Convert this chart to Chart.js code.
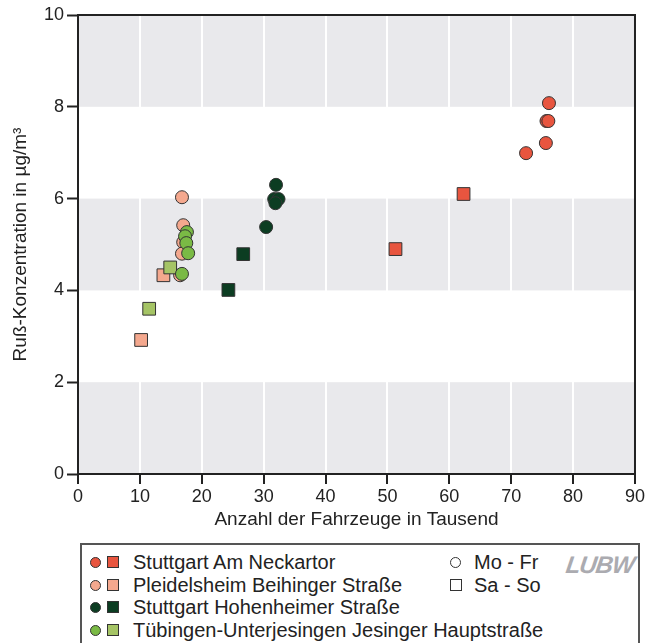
<!DOCTYPE html>
<html>
<head>
<meta charset="utf-8">
<script src="https://cdn.jsdelivr.net/npm/chart.js@4"></script>
<style>
  body { margin: 0; background: #fff; font-family: "Liberation Sans", Arial, sans-serif; }
  #wrap { position: relative; width: 647px; height: 643px; overflow: hidden; }
  #chartBox { position: absolute; left: 0; top: 0; width: 647px; height: 540px; }
  #legend { position: absolute; left: 80px; top: 543px; width: 560px; height: 120px;
            border: 2px solid #555; box-sizing: border-box; color: #222; font-size: 20px; }
  .row { position: absolute; left: 0; height: 22px; line-height: 22px; white-space: nowrap; }
  .dot { position: absolute; width: 11px; height: 11px; border-radius: 50%; border: 1px solid #333; box-sizing: border-box; top: 6px; }
  .sq { position: absolute; width: 12px; height: 12px; border: 1px solid #333; box-sizing: border-box; top: 5px; }
  .txt { position: absolute; top: 0; }
  #logo { position: absolute; left: 484px; top: 6px; font: italic bold 24px "Liberation Sans", Arial, sans-serif;
          color: #ababb0; letter-spacing: -1px; transform: skewX(-8deg); }
</style>
</head>
<body>
<div id="wrap">
  <div id="chartBox"><canvas id="scatter-chart"></canvas></div>
  <div id="legend"></div>
</div>
<script>
// Werte (x: Fahrzeuge in Tausend, y: Ruß in µg/m³)
const neckartorWeekX = [76.1, 75.7, 76.0, 75.6, 72.4];
const neckartorWeekY = [8.08, 7.69, 7.69, 7.21, 6.99];
const neckartorEndX = [62.3, 51.3];
const neckartorEndY = [6.10, 4.90];

const pleidelsheimWeekX = [16.8, 17.0, 17.0, 16.8, 16.5];
const pleidelsheimWeekY = [6.03, 5.42, 5.05, 4.80, 4.33];
const pleidelsheimEndX = [13.8, 10.2];
const pleidelsheimEndY = [4.33, 2.92];

const hohenheimWeekX = [32.0, 31.7, 32.4, 31.9, 30.4];
const hohenheimWeekY = [6.30, 5.99, 5.99, 5.90, 5.38];
const hohenheimEndX = [26.7, 24.3];
const hohenheimEndY = [4.79, 4.01];

const tuebingenWeekX = [17.6, 17.3, 17.5, 17.8, 16.8];
const tuebingenWeekY = [5.27, 5.18, 5.03, 4.81, 4.36];
const tuebingenEndX = [14.9, 11.5];
const tuebingenEndY = [4.50, 3.60];

const xTicks = [0, 10, 20, 30, 40, 50, 60, 70, 80, 90];
const yTicks = [0, 2, 4, 6, 8, 10];
const grayBands = [[0, 2], [4, 6], [8, 10]];

const stations = [
  { name: 'Stuttgart Am Neckartor', week: '#e8553f', end: '#e8553f', wx: neckartorWeekX, wy: neckartorWeekY, ex: neckartorEndX, ey: neckartorEndY, order: 4 },
  { name: 'Pleidelsheim Beihinger Straße', week: '#f4a88e', end: '#f4a88e', wx: pleidelsheimWeekX, wy: pleidelsheimWeekY, ex: pleidelsheimEndX, ey: pleidelsheimEndY, order: 3 },
  { name: 'Stuttgart Hohenheimer Straße', week: '#0c3d22', end: '#0c3d22', wx: hohenheimWeekX, wy: hohenheimWeekY, ex: hohenheimEndX, ey: hohenheimEndY, order: 1 },
  { name: 'Tübingen-Unterjesingen Jesinger Hauptstraße', week: '#7aba45', end: '#a5c465', wx: tuebingenWeekX, wy: tuebingenWeekY, ex: tuebingenEndX, ey: tuebingenEndY, order: 2 },
];

const zip = (xs, ys) => xs.map((x, i) => ({ x: x, y: ys[i] }));

const datasets = [];
stations.forEach(s => {
  datasets.push({ label: s.name + ' Mo-Fr', data: zip(s.wx, s.wy), pointStyle: 'circle', pointRadius: 6.5,
    backgroundColor: s.week, borderColor: '#333', borderWidth: 1, order: s.order });
  datasets.push({ label: s.name + ' Sa-So', data: zip(s.ex, s.ey), pointStyle: 'rect', pointRadius: 9,
    backgroundColor: s.end, borderColor: '#333', borderWidth: 1, order: s.order });
});

const bandsPlugin = {
  id: 'bands',
  beforeDraw(chart) {
    const { ctx, chartArea: { left, right }, scales: { y } } = chart;
    ctx.save();
    ctx.fillStyle = '#e9e9ec';
    grayBands.forEach(([a, b]) => {
      const t = y.getPixelForValue(b), bt = y.getPixelForValue(a);
      ctx.fillRect(left, t, right - left, bt - t);
    });
    ctx.restore();
  },
  beforeDatasetsDraw(chart) {
    const { ctx, chartArea: { left, right, top, bottom } } = chart;
    ctx.save();
    ctx.strokeStyle = '#222';
    ctx.lineWidth = 2;
    ctx.beginPath();
    ctx.moveTo(left, top);
    ctx.lineTo(right, top);
    ctx.lineTo(right, bottom);
    ctx.stroke();
    ctx.restore();
  }
};

const tickFont = { family: '"Liberation Sans", Arial, sans-serif', size: 18 };
const titleFont = { family: '"Liberation Sans", Arial, sans-serif', size: 19 };

new Chart(document.getElementById('scatter-chart'), {
  type: 'scatter',
  data: { datasets: datasets },
  options: {
    responsive: true,
    maintainAspectRatio: false,
    animation: false,
    events: [],
    layout: { padding: { top: 15, right: 12, left: 0, bottom: 0 } },
    plugins: { legend: { display: false }, tooltip: { enabled: false } },
    scales: {
      x: {
        type: 'linear', min: 0, max: 90,
        afterBuildTicks: s => { s.ticks = xTicks.map(v => ({ value: v })); },
        afterFit: s => { s.height = 66; },
        border: { color: '#222', width: 2 },
        grid: {
          color: c => (c.index === 0 || c.index === xTicks.length - 1) ? 'rgba(0,0,0,0)' : '#fff',
          lineWidth: 2, tickColor: '#222', tickWidth: 2, tickLength: 10
        },
        ticks: { color: '#222', font: tickFont, padding: 2, maxRotation: 0 },
        title: { display: true, text: 'Anzahl der Fahrzeuge in Tausend', color: '#222', font: titleFont, padding: { top: 0, bottom: 9 } }
      },
      y: {
        type: 'linear', min: 0, max: 10,
        afterBuildTicks: s => { s.ticks = yTicks.map(v => ({ value: v })); },
        afterFit: s => { s.width = 78; },
        border: { color: '#222', width: 2 },
        grid: { drawOnChartArea: false, tickColor: '#222', tickWidth: 2, tickLength: 11 },
        ticks: { color: '#222', font: tickFont, padding: 3 },
        title: { display: true, text: 'Ruß-Konzentration in µg/m³', color: '#222', font: titleFont, padding: { top: 9, bottom: 0 } }
      }
    }
  },
  plugins: [bandsPlugin]
});

// Legende
const legend = document.getElementById('legend');
stations.forEach((s, i) => {
  const row = document.createElement('div');
  row.className = 'row';
  row.style.top = (6 + i * 22.5) + 'px';
  row.innerHTML = '<span class="dot" style="left:8px;background:' + s.week + '"></span>' +
    '<span class="sq" style="left:25px;background:' + s.end + '"></span>' +
    '<span class="txt" style="left:51px">' + s.name + '</span>';
  legend.appendChild(row);
});
const kinds = [['dot', 'Mo - Fr'], ['sq', 'Sa - So']];
kinds.forEach((k, i) => {
  const row = document.createElement('div');
  row.className = 'row';
  row.style.top = (6 + i * 22.5) + 'px';
  row.innerHTML = '<span class="' + k[0] + '" style="left:368px;background:#fff"></span>' +
    '<span class="txt" style="left:392px">' + k[1] + '</span>';
  legend.appendChild(row);
});
const logo = document.createElement('div');
logo.id = 'logo';
logo.textContent = 'LUBW';
legend.appendChild(logo);
</script>
</body>
</html>
